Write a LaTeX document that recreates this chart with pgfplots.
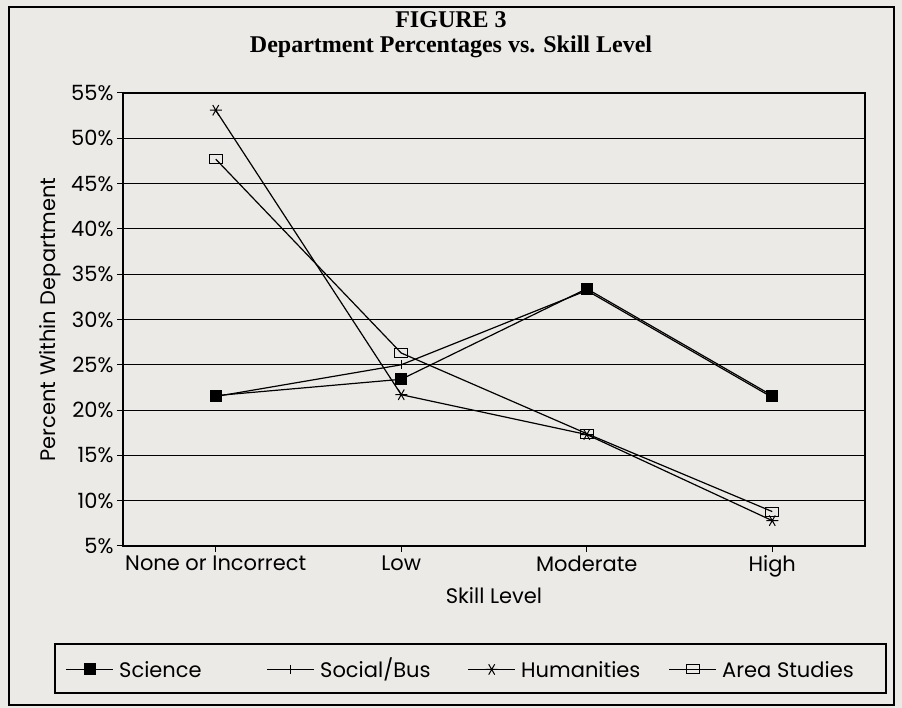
\documentclass[border=0pt]{standalone}
\usepackage{fontspec}
\setmainfont{Liberation Serif}
\newfontfamily\gfont{Poppins}
\usepackage{pgfplots}
\pgfplotsset{compat=1.18}
\definecolor{paper}{RGB}{236,234,231}
\newcommand{\lentry}[1]{\raisebox{0pt}[14.6pt][0pt]{\makebox[150pt][l]{\hspace{4pt}#1}}}
\begin{document}
\begin{tikzpicture}
\fill[paper] (0pt,0pt) rectangle (902pt,708pt);
\draw[line width=1.5pt] (9pt,3pt) rectangle (894pt,701pt);
\node[font=\bfseries\fontsize{24}{28}\selectfont] at (451pt,688pt) {FIGURE 3};
\node[font=\bfseries\fontsize{24}{28}\selectfont] at (451pt,661pt) {Department Percentages vs. Skill Level};
\draw[line width=1.2pt] (55pt,15pt) rectangle (886pt,64pt);
\begin{axis}[
  at={(123pt,162pt)}, anchor=south west, scale only axis,
  width=742pt, height=453pt,
  xmin=-0.5, xmax=3.5, ymin=5, ymax=55,
  xtick={0,1,2,3},
  xticklabels={None or Incorrect, Low, Moderate, High},
  ytick={5,10,15,20,25,30,35,40,45,50,55},
  yticklabels={5\%,10\%,15\%,20\%,25\%,30\%,35\%,40\%,45\%,50\%,55\%},
  tick align=outside, major tick length=6pt,
  xtick pos=bottom, ytick pos=left,
  ymajorgrids, grid style={black, line width=1.1pt},
  axis line style={line width=1.2pt},
  tick style={black, line width=1pt},
  every tick label/.append style={font=\gfont\fontsize{21}{24}\selectfont},
  label style={font=\gfont\fontsize{21}{24}\selectfont},
  xlabel={Skill Level}, ylabel={Percent Within Department},
  xlabel style={yshift=-3pt}, ylabel style={yshift=3pt},
  legend columns=4,
  legend style={draw=none, fill=none, inner sep=0pt,
    at={(axis description cs:-0.0768,-0.2704)}, anchor=west,
    font=\gfont\fontsize{21}{24}\selectfont},
  legend image code/.code={\path[use as bounding box, draw=none, fill=none] (0pt,0pt) rectangle (47pt,14.6pt);\draw[mark repeat=2,mark phase=2] plot coordinates {(0pt,1.3pt) (23.5pt,1.3pt) (47pt,1.3pt)};},
  every axis plot/.append style={black, line width=1.2pt, mark options={solid, line width=1pt}},
]
\addplot[mark=square*, mark size=5.5pt] coordinates {(0,21.6) (1,23.4) (2,33.4) (3,21.6)};
\addlegendentry{\lentry{Science}}
\addplot[mark=+, mark size=4.5pt] coordinates {(0,21.5) (1,25.0) (2,33.2) (3,21.4)};
\addlegendentry{\lentry{Social/Bus}}
\addplot[mark=asterisk, mark size=6pt, mark options={rotate=90, solid, line width=1pt}] coordinates {(0,53.1) (1,21.7) (2,17.3) (3,7.8)};
\addlegendentry{\lentry{Humanities}}
\addplot[mark=square, mark size=4.5pt, mark options={xscale=1.4, fill=white, solid, line width=1pt}] coordinates {(0,47.7) (1,26.3) (2,17.4) (3,8.8)};
\addlegendentry{\lentry{Area Studies}}
\end{axis}
\end{tikzpicture}
\end{document}
